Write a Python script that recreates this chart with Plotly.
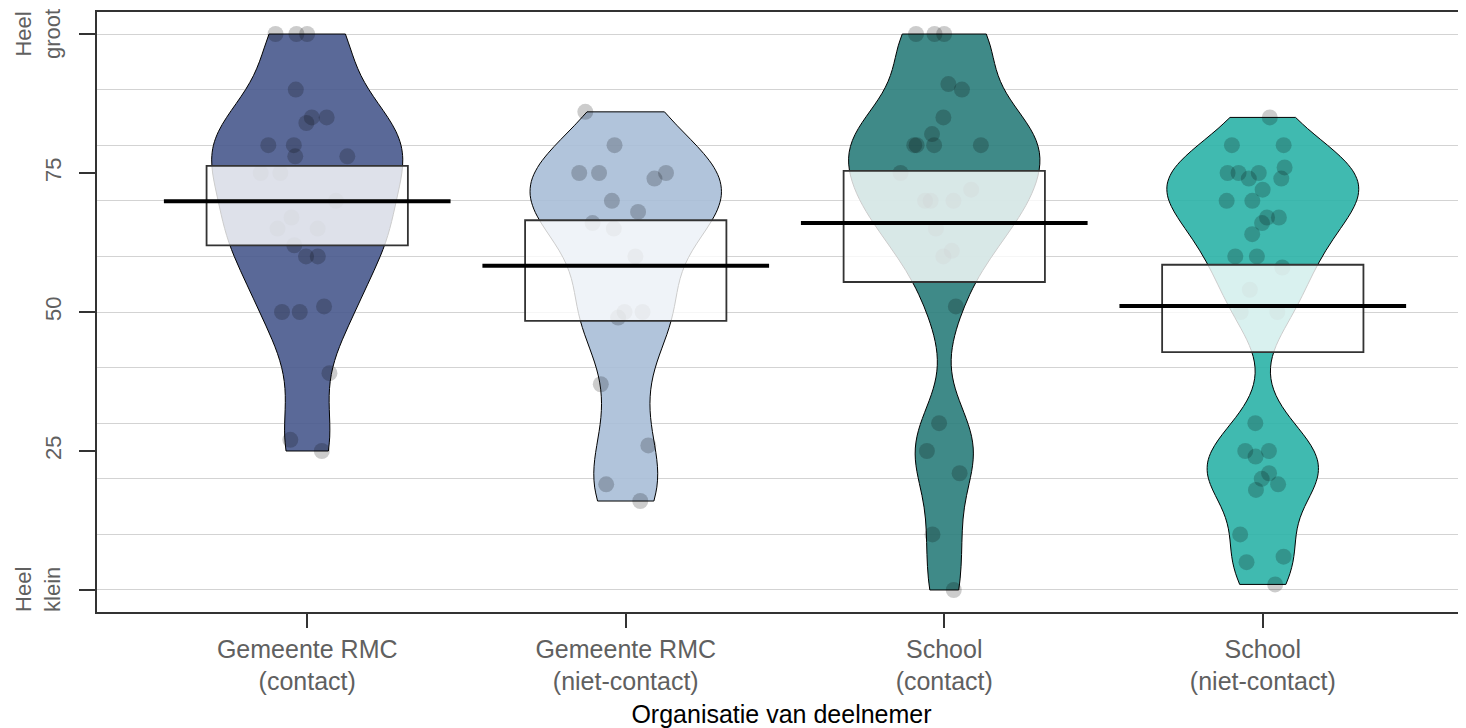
import numpy as np
import plotly.graph_objects as go

categories = ["Gemeente RMC<br>(contact)", "Gemeente RMC<br>(niet-contact)",
              "School<br>(contact)", "School<br>(niet-contact)"]

gemeente_contact = [100, 100, 100, 90, 85, 85, 84, 80, 80, 78, 78, 75, 75, 70, 67,
                    65, 65, 62, 60, 60, 51, 50, 50, 39, 27, 25]
gemeente_niet_contact = [86, 80, 75, 75, 75, 74, 70, 68, 66, 65, 60, 50, 50, 49,
                         37, 26, 19, 16]
school_contact = [100, 100, 100, 91, 90, 85, 82, 80, 80, 80, 80, 75, 72, 70, 70, 70,
                  65, 61, 60, 51, 30, 25, 21, 10, 0]
school_niet_contact = [85, 80, 80, 76, 75, 75, 75, 74, 74, 72, 70, 70, 67, 67, 66,
                       64, 60, 60, 58, 54, 50, 50, 30, 25, 25, 24, 21, 20, 19, 18,
                       10, 6, 5, 1]

means = [69.9, 58.3, 66.0, 51.1]
band_low = [62.0, 48.4, 55.4, 42.8]
band_high = [76.3, 66.5, 75.4, 58.5]

y_tickvals = [0, 25, 50, 75, 100]
y_ticktext = ["", "25", "50", "75", ""]
end_label_vals = [0, 100]
end_label_text = ["Heel<br>klein", "Heel<br>groot"]
grid_vals = list(range(0, 101, 10))

groups = [gemeente_contact, gemeente_niet_contact, school_contact, school_niet_contact]
fills = ["rgba(72,89,141,0.9)", "rgba(168,190,215,0.9)",
         "rgba(42,125,123,0.9)", "rgba(43,178,167,0.9)"]
bandwidths = [7.5, 7.5, 6.5, 6.0]

FONT = "Liberation Sans, Arial, sans-serif"
fig = go.Figure()

for i, (vals, col) in enumerate(zip(groups, fills)):
    fig.add_trace(go.Violin(
        y=vals, x0=i + 1, name=categories[i],
        width=0.6, scalemode="width", spanmode="hard",
        bandwidth=bandwidths[i],
        fillcolor=col, line=dict(color="black", width=1),
        points="all", pointpos=0, jitter=0.5,
        marker=dict(color="rgba(0,0,0,0.2)", size=16, line=dict(width=0)),
        box_visible=False, meanline_visible=False,
        showlegend=False, hoverinfo="skip",
    ))

for i in range(4):
    xc = i + 1
    fig.add_shape(type="rect", xref="x", yref="y",
                  x0=xc - 0.316, x1=xc + 0.316, y0=band_low[i], y1=band_high[i],
                  fillcolor="rgba(255,255,255,0.8)",
                  line=dict(color="#333333", width=1.8), layer="above")
for i in range(4):
    xc = i + 1
    fig.add_shape(type="line", xref="x", yref="y",
                  x0=xc - 0.45, x1=xc + 0.45, y0=means[i], y1=means[i],
                  line=dict(color="black", width=4), layer="above")

# end labels of the y axis (two-line, rotated, centred on their ticks)
for val, txt in zip(end_label_vals, end_label_text):
    fig.add_annotation(x=0, xref="paper", y=val, yref="y", text=txt,
                       textangle=-90, showarrow=False, align="center",
                       xanchor="center", yanchor="middle", xshift=-59,
                       font=dict(size=22, color="#606060", family=FONT))

# page body has an 8px default margin: size the figure to fit the 1466x728 window
fig.update_layout(
    width=1458, height=720,
    margin=dict(l=89, r=0, t=4, b=116, autoexpand=False),
    paper_bgcolor="white", plot_bgcolor="white",
    violinmode="overlay",
    font=dict(family=FONT, size=24, color="#606060"),
    showlegend=False,
)

fig.update_xaxes(
    range=[0.34, 4.638], tickmode="array", tickvals=[1, 2, 3, 4], ticktext=categories,
    ticks="outside", ticklen=14, tickwidth=1.5, tickcolor="#333333",
    showline=True, linecolor="#333333", linewidth=1.5, mirror=True,
    showgrid=False, zeroline=False, automargin=False,
    tickfont=dict(size=25, color="#606060", family=FONT),
    title=dict(text="Organisatie van deelnemer", font=dict(size=25, color="black", family=FONT),
               standoff=12),
)

fig.update_yaxes(
    range=[-3.96, 103.96], tickmode="array", tickvals=y_tickvals, ticktext=y_ticktext,
    tickangle=-90, ticks="outside", ticklen=16, tickwidth=1.5, tickcolor="#333333",
    showline=True, linecolor="#333333", linewidth=1.5,
    showgrid=False, zeroline=False, automargin=False, ticklabelstandoff=9,
    ticklabeloverflow="allow",
    tickfont=dict(size=22, color="#606060", family=FONT),
    minor=dict(tickmode="array", tickvals=grid_vals, showgrid=True,
               gridcolor="#D3D3D3", gridwidth=1.3, ticks=""),
)

fig.write_html("out.html")
